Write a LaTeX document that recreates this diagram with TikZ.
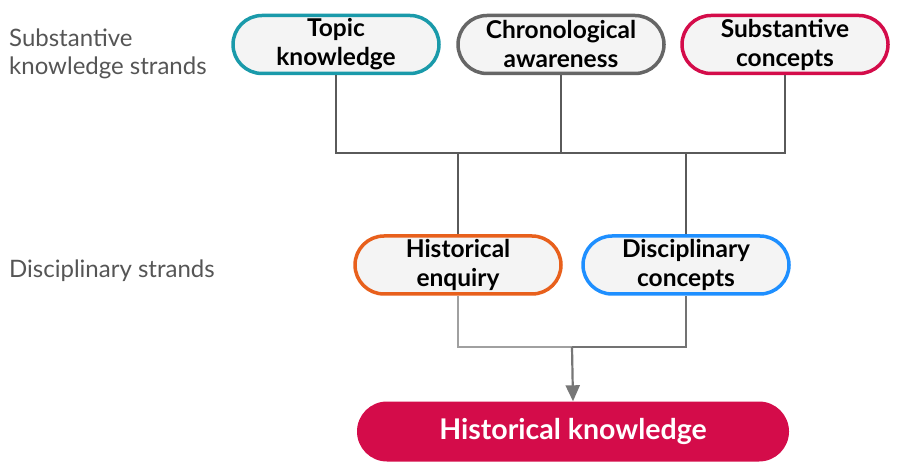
\documentclass[tikz,border=0pt]{standalone}
\usepackage{fontspec}
\setmainfont{Lato}
\usetikzlibrary{arrows.meta,positioning,calc}
\definecolor{teal}{HTML}{1A9AAA}
\definecolor{slate}{HTML}{666666}
\definecolor{crimson}{HTML}{D40C4A}
\definecolor{orange}{HTML}{E8601C}
\definecolor{azure}{HTML}{1E8FFF}
\definecolor{boxfill}{HTML}{F4F4F4}
\definecolor{labelgrey}{HTML}{555555}
\definecolor{linedark}{HTML}{5A5A5A}
\definecolor{linelight}{HTML}{A0A0A0}
\definecolor{arrowgrey}{HTML}{777777}

\tikzset{
  strand/.style={draw,line width=3.5pt,fill=boxfill,rounded corners=29pt,
    minimum width=206pt,minimum height=58pt,align=center,inner sep=0pt,
    font=\fontsize{24.5}{29}\selectfont\bfseries},
  sidelabel/.style={anchor=west,align=left,text=labelgrey,inner sep=0pt,
    font=\fontsize{24}{28}\selectfont},
  link/.style={draw=linedark,line width=1.4pt}
}

\begin{document}
\begin{tikzpicture}[x=1pt,y=1pt,>=Triangle]
  \useasboundingbox (0,0) rectangle (901,474);

  % left labels
  \node[sidelabel] (lblsub) at (9,420) {Substantive\\knowledge strands};
  \node[sidelabel] (lbldis) at (9,203) {Disciplinary strands};

  % substantive strands
  \node[strand,draw=teal] (topic) at (336,429.5) {Topic\\knowledge};
  \node[strand,draw=slate] (chrono) at (561,429.5) {Chronological\\awareness};
  \node[strand,draw=crimson] (subst) at (785,429.5) {Substantive\\concepts};

  % disciplinary strands
  \node[strand,draw=orange] (enq) at (458,209) {Historical\\enquiry};
  \node[strand,draw=azure] (disc) at (686,209) {Disciplinary\\concepts};

  % outcome
  \node[fill=crimson,rounded corners=30pt,minimum width=432pt,minimum height=60pt,
    text=white,font=\fontsize{28.5}{32}\selectfont\bfseries] (hk) at (573,42.5) {Historical knowledge};

  % upper connectors
  \coordinate (jtop) at (561,321);
  \draw[link] (topic.south) |- (jtop) -| (subst.south);
  \draw[link] (chrono.south) -- (jtop);
  \draw[link] (enq.north) -- (enq.north |- jtop);
  \draw[link] (disc.north) -- (disc.north |- jtop);

  % lower connectors
  \coordinate (jbot) at (572,127);
  \draw[draw=linelight,line width=2pt] (enq.south) |- (jbot);
  \draw[draw=linedark!85,line width=1.4pt] (jbot) -| (disc.south);
  \draw[draw=arrowgrey,line width=2.2pt,-{Triangle[width=14pt,length=16pt]}] (jbot) -- (hk.north);
\end{tikzpicture}
\end{document}
